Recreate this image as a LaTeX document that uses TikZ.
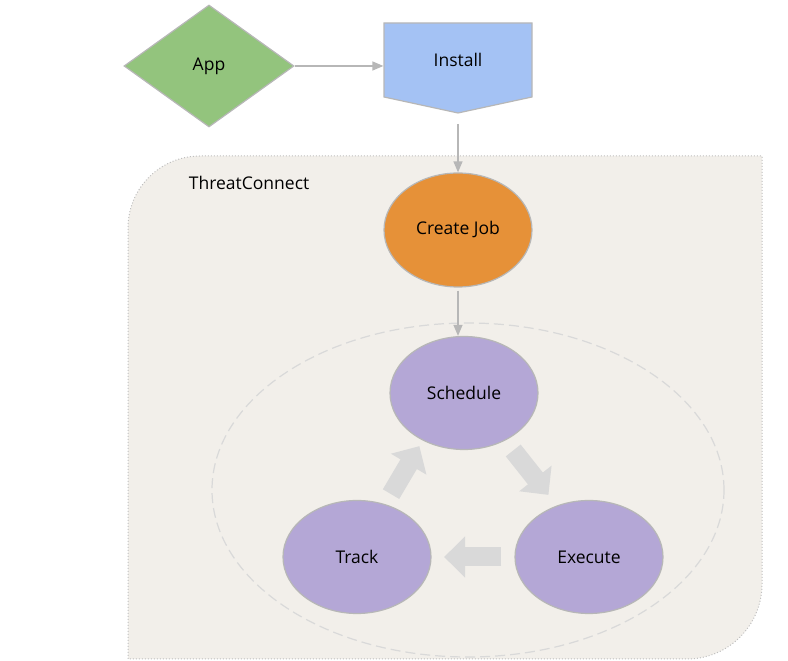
\documentclass[tikz,border=0pt]{standalone}
\usepackage{fontspec}
\setmainfont{Open Sans}
\usetikzlibrary{shapes.geometric}
\usetikzlibrary{arrows.meta,calc}
\definecolor{appgreen}{HTML}{93C47D}
\definecolor{instblue}{HTML}{A4C2F4}
\definecolor{joborange}{HTML}{E69138}
\definecolor{steppurple}{HTML}{B4A7D6}
\definecolor{tcbg}{HTML}{F2EFEA}
\definecolor{edgegray}{HTML}{B7B7B7}
\definecolor{fatgray}{HTML}{D9D9D9}

\begin{document}
\begin{tikzpicture}[x=1pt, y=1pt, line width=1.2pt]
\tikzstyle{every node}=[font=\fontsize{17.5}{20}\selectfont, text=black] %%
\tikzstyle{shp}=[draw=edgegray, inner sep=0pt]
\tikzstyle{phase}=[shp, ellipse, fill=steppurple, minimum width=148pt, minimum height=113pt]
\tikzstyle{flow}=[draw=edgegray, line width=1.3pt, -{Triangle[length=11pt,width=9pt]}]
\tikzstyle{fat}=[draw=fatgray, line width=19pt, -{Triangle[length=21pt,width=40pt]}]
\useasboundingbox (0,0) rectangle (788,661);
% the ThreatConnect area
\filldraw[fill=tcbg, draw=black!25, dotted, line width=1pt]
   (128,2) -- (128,433) arc[start angle=180, end angle=90, radius=72]
   -- (762,505) -- (762,77) arc[start angle=0, end angle=-90, radius=75] -- cycle;
\node[anchor=west] (tc) at (185,478) {ThreatConnect};
\draw[fatgray, dash pattern=on 10pt off 5pt] (468,171) ellipse [x radius=256, y radius=167];
% app and install
\node[shp, diamond, fill=appgreen, minimum width=170pt, minimum height=122pt] (app) at (209,595) {App};
\filldraw[fill=instblue, draw=edgegray]
   (384,638) -- (532,638) -- (532,564) -- (458,548) -- (384,564) -- cycle;
\node[minimum width=148pt, minimum height=74pt, inner sep=0pt] (inst) at (458,601) {Install};
\coordinate (instpt) at (458,548);
% the job and its loop
\node[shp, ellipse, fill=joborange, minimum width=148pt, minimum height=114pt] (job) at (458,431) {Create Job};
\node[phase] (sched) at (464,268) {Schedule};
\node[phase] (exec) at (589,104) {Execute};
\node[phase] (track) at (357,104) {Track};
\draw[flow] (app.east) -- (app.east -| inst.west);
\draw[flow, shorten <=11pt] (instpt) -- (job);
\draw[flow, shorten <=3pt] (job.south) -- (job.south |- sched.north);
\draw[fat, shorten <=12.7pt, shorten >=13.5pt] (sched.-49) -- (exec.122);
\draw[fat, shorten <=13pt, shorten >=12.5pt] (exec.west) -- (track.east);
\draw[fat, shorten <=11.6pt, shorten >=6.5pt] (track.62) -- (sched.229);
\end{tikzpicture}
\end{document}
